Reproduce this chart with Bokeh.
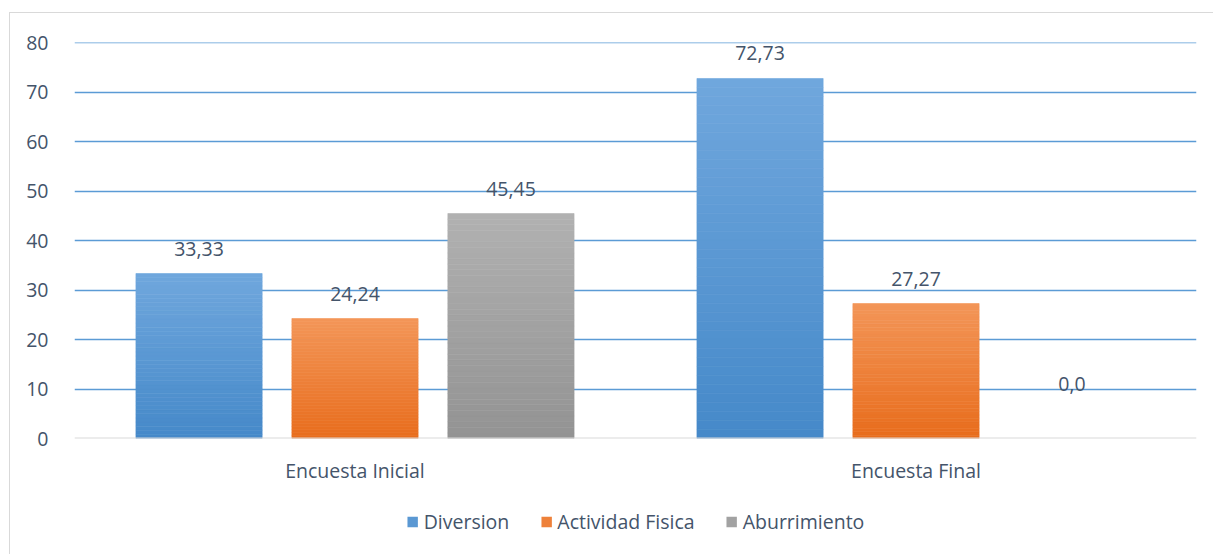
from bokeh.plotting import figure
from bokeh.layouts import column
from bokeh.models import (FactorRange, Range1d, Legend, LegendItem, Span, FixedTicker,
                          ColumnDataSource)
from bokeh.core.properties import value
from bokeh.transform import dodge
from bokeh.embed import file_html
from bokeh.resources import INLINE

# ---- data ----
categories = ["Encuesta Inicial", "Encuesta Final"]
series = ["Diversion", "Actividad Fisica", "Aburrimiento"]
diversion = [33.33, 72.73]
actividad = [24.24, 27.27]
aburrimiento = [45.45, 0.0]
labels_div = ["33,33", "72,73"]
labels_act = ["24,24", "27,27"]
labels_abu = ["45,45", "0,0"]
y_ticks = [0, 10, 20, 30, 40, 50, 60, 70, 80]

values = [diversion, actividad, aburrimiento]
labels = [labels_div, labels_act, labels_abu]

# ---- styles ----
FONT = "Open Sans"
FS = "19.5px"
TXT = "#44546A"
tops = ["#70A7DD", "#F39658", "#B1B1B1"]
bots = ["#4589C9", "#E86C1C", "#939393"]
offsets = [-0.278, 0.0, 0.278]
BAR_W = 0.225
NSTRIP = 40


def hex2rgb(h):
    h = h.lstrip("#")
    return tuple(int(h[i:i + 2], 16) for i in (0, 2, 4))


def mix(a, b, t):
    ra, rb = hex2rgb(a), hex2rgb(b)
    return "#%02x%02x%02x" % tuple(round(ra[k] + (rb[k] - ra[k]) * t) for k in range(3))


p = figure(x_range=FactorRange(*categories, range_padding=0), y_range=Range1d(0, 80),
           frame_width=1122, frame_height=396,
           output_backend="svg", toolbar_location=None,
           min_border_left=64, min_border_top=29, min_border_right=17, min_border_bottom=60)
p.outline_line_color = None
p.background_fill_color = "white"
p.border_fill_color = "white"

# gridlines
p.xgrid.grid_line_color = None
p.ygrid.ticker = FixedTicker(ticks=y_ticks[1:])
p.ygrid.grid_line_color = "#5B9BD5"
p.ygrid.grid_line_width = 1.5
p.add_layout(Span(location=y_ticks[-1], dimension="width", line_color="#5B9BD5",
                  line_width=1.5, level="underlay"))

for si, (name, vals, labs) in enumerate(zip(series, values, labels)):
    # gradient bars as stacked strips (top light -> bottom dark)
    xs, bottoms, topsv, cols = [], [], [], []
    for c, v in zip(categories, vals):
        if v <= 0:
            continue
        for k in range(NSTRIP):
            b = v * k / NSTRIP
            t = v * (k + 1) / NSTRIP
            frac = 1 - (k + 0.5) / NSTRIP  # 0 at top, 1 at bottom
            xs.append(c)
            bottoms.append(b)
            topsv.append(t)
            cols.append(mix(tops[si], bots[si], frac))
    src = ColumnDataSource(dict(x=xs, bottom=bottoms, top=topsv, color=cols))
    p.vbar(x=dodge("x", offsets[si], range=p.x_range), bottom="bottom", top="top",
           width=BAR_W, fill_color="color", line_color="color", line_width=0.6, source=src)

    # data labels
    ls = ColumnDataSource(dict(x=categories, y=vals, t=labs,
                               off=[-25 if v > 0 else -55 for v in vals]))
    p.text(x=dodge("x", offsets[si], range=p.x_range), y="y", text="t", y_offset="off",
           source=ls, text_align="center", text_baseline="middle",
           text_font=value(FONT), text_font_size=FS, text_color=TXT)

# zero line
p.add_layout(Span(location=0, dimension="width", line_color="#D9D9D9", line_width=2))

# axes
p.yaxis.ticker = FixedTicker(ticks=y_ticks)
p.yaxis.axis_line_color = None
p.yaxis.major_tick_line_color = None
p.yaxis.minor_tick_line_color = None
p.yaxis.major_label_text_font = FONT
p.yaxis.major_label_text_font_size = FS
p.yaxis.major_label_text_color = TXT
p.yaxis.major_label_standoff = 20

p.xaxis.axis_line_color = None
p.xaxis.major_tick_line_color = None
p.xaxis.minor_tick_line_color = None
p.xaxis.major_label_text_font = FONT
p.xaxis.major_label_text_font_size = FS
p.xaxis.major_label_text_color = TXT
p.xaxis.major_label_standoff = 12

# ---- legend strip (separate figure) ----
p2 = figure(width=1203, height=56, x_range=Range1d(0, 1), y_range=Range1d(0, 1),
            x_axis_type=None, y_axis_type=None, output_backend="svg",
            toolbar_location=None, min_border=0)
p2.outline_line_color = None
p2.xgrid.grid_line_color = None
p2.ygrid.grid_line_color = None
legend_items = []
for si, name in enumerate(series):
    r = p2.quad(left=[-5], right=[-4], bottom=[-5], top=[-4],
                fill_color=mix(tops[si], bots[si], 0.5), line_color=None)
    legend_items.append(LegendItem(label=name, renderers=[r]))
legend = Legend(items=legend_items, orientation="horizontal", location="top_center",
                label_text_font=FONT, label_text_font_size=FS, label_text_color=TXT,
                glyph_width=13, glyph_height=13, spacing=30, label_standoff=5,
                border_line_color=None, background_fill_alpha=0, margin=10, padding=4)
p2.add_layout(legend, "center")

layout = column(p, p2, spacing=0)
layout.margin = (13, 0, 0, 10)
layout.styles = {"outline": "1.5px solid #D9D9D9", "background-color": "white"}

open("out.html", "w").write(file_html(layout, INLINE))
